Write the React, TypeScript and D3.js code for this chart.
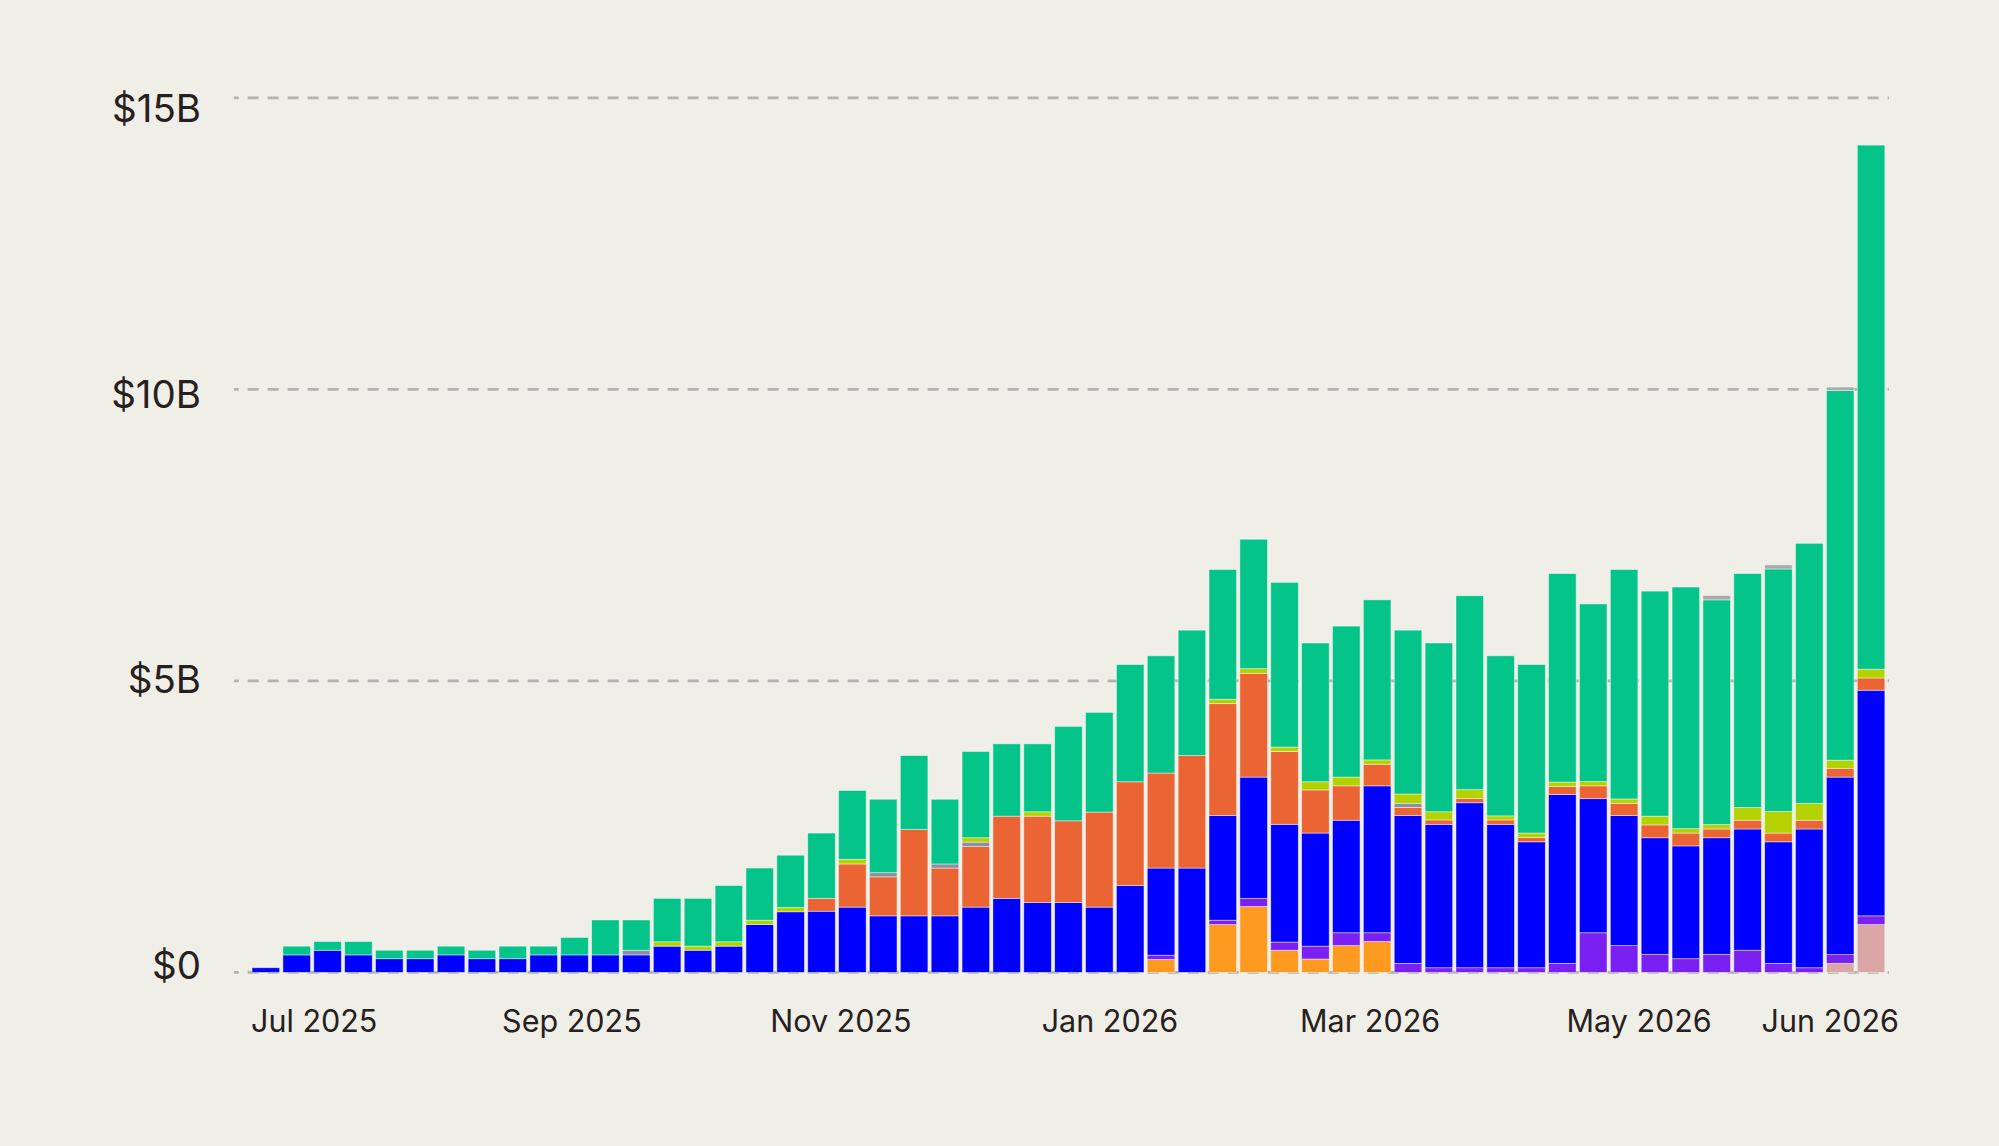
import { useRef, useMemo, useLayoutEffect } from "react";
import * as d3 from "d3";

// weekly buckets (week start, UTC)
const weeks = [
  "2025-06-21", "2025-06-28", "2025-07-05", "2025-07-12", "2025-07-19", "2025-07-26",
  "2025-08-02", "2025-08-09", "2025-08-16", "2025-08-23", "2025-08-30", "2025-09-06",
  "2025-09-13", "2025-09-20", "2025-09-27", "2025-10-04", "2025-10-11", "2025-10-18",
  "2025-10-25", "2025-11-01", "2025-11-08", "2025-11-15", "2025-11-22", "2025-11-29",
  "2025-12-06", "2025-12-13", "2025-12-20", "2025-12-27", "2026-01-03", "2026-01-10",
  "2026-01-17", "2026-01-24", "2026-01-31", "2026-02-07", "2026-02-14", "2026-02-21",
  "2026-02-28", "2026-03-07", "2026-03-14", "2026-03-21", "2026-03-28", "2026-04-04",
  "2026-04-11", "2026-04-18", "2026-04-25", "2026-05-02", "2026-05-09", "2026-05-16",
  "2026-05-23", "2026-05-30", "2026-06-06", "2026-06-13", "2026-06-20",
];

// values in $B, stacked bottom -> top
const pink = [
  0, 0, 0, 0, 0, 0, 0, 0, 0, 0, 0, 0, 0, 0, 0, 0, 0, 0, 0, 0, 0, 0, 0, 0, 0, 0, 0,
  0, 0, 0, 0, 0, 0, 0, 0, 0, 0, 0, 0, 0, 0, 0, 0, 0, 0, 0, 0, 0, 0, 0, 0, 0.155, 0.82,
];
const orange = [
  0, 0, 0, 0, 0, 0, 0, 0, 0, 0, 0, 0, 0, 0, 0, 0, 0, 0, 0, 0, 0, 0, 0, 0, 0, 0, 0,
  0, 0, 0.22, 0, 0.82, 1.13, 0.38, 0.23, 0.46, 0.53, 0, 0, 0, 0, 0, 0, 0, 0, 0, 0, 0,
  0, 0, 0, 0, 0,
];
const purple = [
  0, 0, 0, 0, 0, 0, 0, 0, 0, 0, 0, 0, 0, 0, 0, 0, 0, 0, 0, 0, 0, 0, 0, 0, 0, 0, 0,
  0, 0, 0.075, 0, 0.075, 0.14, 0.14, 0.22, 0.22, 0.15, 0.155, 0.08, 0.08, 0.08, 0.08,
  0.155, 0.68, 0.46, 0.31, 0.235, 0.31, 0.38, 0.155, 0.08, 0.15, 0.15,
];
const blue = [
  0.08, 0.3, 0.38, 0.3, 0.235, 0.235, 0.3, 0.235, 0.235, 0.3, 0.3, 0.3, 0.3, 0.45,
  0.38, 0.45, 0.82, 1.04, 1.05, 1.12, 0.97, 0.97, 0.97, 1.12, 1.27, 1.2, 1.2, 1.12,
  1.49, 1.495, 1.79, 1.795, 2.08, 2.02, 1.94, 1.93, 2.52, 2.535, 2.46, 2.83, 2.46,
  2.16, 2.895, 2.3, 2.23, 2.0, 1.935, 2.0, 2.08, 2.085, 2.38, 3.045, 3.87,
];
const red = [
  0, 0, 0, 0, 0, 0, 0, 0, 0, 0, 0, 0, 0, 0, 0, 0, 0, 0, 0.22, 0.74, 0.67, 1.48, 0.82,
  1.04, 1.41, 1.48, 1.4, 1.63, 1.78, 1.63, 1.93, 1.92, 1.78, 1.25, 0.74, 0.59, 0.37,
  0.14, 0.075, 0.075, 0.075, 0.075, 0.14, 0.22, 0.21, 0.22, 0.22, 0.15, 0.15, 0.15,
  0.15, 0.15, 0.21,
];
const slate = [
  0, 0, 0, 0, 0, 0, 0, 0, 0, 0, 0, 0, 0.08, 0, 0, 0, 0, 0, 0, 0, 0.07, 0, 0.07, 0.075,
  0, 0, 0, 0, 0, 0, 0, 0, 0, 0, 0, 0, 0, 0.07, 0, 0, 0, 0, 0, 0, 0, 0, 0, 0, 0, 0, 0,
  0, 0,
];
const lime = [
  0, 0, 0, 0, 0, 0, 0, 0, 0, 0, 0, 0, 0, 0.075, 0.07, 0.075, 0.075, 0.075, 0, 0.08, 0,
  0, 0, 0.075, 0, 0.075, 0, 0, 0, 0, 0, 0.075, 0.08, 0.075, 0.14, 0.15, 0.075, 0.16,
  0.14, 0.15, 0.07, 0.075, 0.075, 0.075, 0.075, 0.15, 0.075, 0.075, 0.22, 0.37, 0.29,
  0.14, 0.15,
];
const green = [
  0, 0.15, 0.15, 0.23, 0.145, 0.145, 0.15, 0.145, 0.215, 0.15, 0.3, 0.6, 0.52, 0.745,
  0.82, 0.965, 0.895, 0.895, 1.12, 1.18, 1.26, 1.27, 1.11, 1.48, 1.24, 1.165, 1.62,
  1.71, 2.01, 2.01, 2.15, 2.225, 2.22, 2.825, 2.38, 2.59, 2.745, 2.81, 2.895, 3.325,
  2.745, 2.89, 3.575, 3.045, 3.935, 3.86, 4.145, 3.855, 4.01, 4.16, 4.46, 6.34, 8.99,
];
const gray = [
  0, 0, 0, 0, 0, 0, 0, 0, 0, 0, 0, 0, 0, 0, 0, 0, 0, 0, 0, 0, 0, 0, 0, 0, 0, 0, 0,
  0, 0, 0, 0, 0, 0, 0, 0, 0, 0, 0, 0, 0, 0, 0, 0, 0, 0, 0, 0, 0.075, 0, 0.07, 0, 0.06, 0,
];

const seriesKeys = ["pink", "orange", "purple", "blue", "red", "slate", "lime", "green", "gray"];
const seriesValues: Record<string, number[]> = { pink, orange, purple, blue, red, slate, lime, green, gray };
const seriesColors: Record<string, string> = {
  pink: "#DBA7A6",
  orange: "#FF9A20",
  purple: "#7A20F2",
  blue: "#0000FF",
  red: "#EB6534",
  slate: "#8A90A1",
  lime: "#B3D200",
  green: "#04C489",
  gray: "#ABABAB",
};

const yTicks = [0, 5, 10, 15];
const xTickDates = ["2025-07-01", "2025-09-01", "2025-11-01", "2026-01-01", "2026-03-01", "2026-05-01"];

const W = 1999;
const H = 1146;
const BG = "#F0EFE7";

export default function App() {
  const xLabelsRef = useRef<SVGGElement>(null);
  const parse = d3.utcParse("%Y-%m-%d");

  const table = useMemo(
    () =>
      weeks.map((w, i) => {
        const row: Record<string, any> = { date: parse(w) as Date };
        seriesKeys.forEach((k) => (row[k] = seriesValues[k][i]));
        return row;
      }),
    []
  );

  const first = table[0].date as Date;
  const last = table[table.length - 1].date as Date;

  const x = d3.scaleUtc().domain([first, d3.utcDay.offset(last, 7)]).range([250.4, 1886.5]);
  const y = d3.scaleLinear().domain([0, 15]).range([972.4, 97.9]);
  // value labels sit a bit off the grid lines in the original
  const yLabel = d3.scaleLinear().domain([0, 15]).range([979, 122]);

  const stacked = useMemo(() => d3.stack<any>().keys(seriesKeys)(table), [table]);

  const gap = 3.3;
  const plotLeft = 251;
  const plotRight = 1899;

  const ticks = [
    ...xTickDates.map((d) => parse(d) as Date),
    d3.utcHour.offset(last, 84), // latest week
  ];
  const fmt = d3.utcFormat("%b %Y");

  // keep edge labels inside the plot
  useLayoutEffect(() => {
    if (!xLabelsRef.current) return;
    d3.select(xLabelsRef.current)
      .selectAll<SVGTextElement, unknown>("text")
      .each(function () {
        const el = this;
        const cx = +el.getAttribute("data-x")!;
        const w = el.getComputedTextLength();
        let px = cx;
        if (px - w / 2 < plotLeft) px = plotLeft + w / 2;
        if (px + w / 2 > plotRight) px = plotRight - w / 2;
        el.setAttribute("x", String(px));
      });
  }, []);

  return (
    <svg width={W} height={H} viewBox={`0 0 ${W} ${H}`} style={{ position: "absolute", left: 0, top: 0 }}>
      <rect x={0} y={0} width={W} height={H} fill={BG} />

      {/* grid */}
      <g>
        {yTicks.map((v) => (
          <line
            key={`g-${v}`}
            x1={234}
            x2={1889}
            y1={y(v)}
            y2={y(v)}
            stroke="#B3B2AC"
            strokeWidth={2.6}
            strokeDasharray="11 9"
            strokeDashoffset={6.3}
          />
        ))}
      </g>

      {/* bars */}
      <g>
        {stacked.map((layer) =>
          layer.map((s, i) => {
            const h = y(s[0]) - y(s[1]);
            if (h <= 0) return null;
            const d = table[i].date as Date;
            const x0 = x(d) + gap / 2;
            const bw = x(d3.utcDay.offset(d, 7)) - x(d) - gap;
            return (
              <rect
                key={`${layer.key}-${i}`}
                x={x0}
                y={y(s[1])}
                width={bw}
                height={h}
                fill={seriesColors[layer.key]}
                stroke="rgba(255,255,255,0.55)"
                strokeWidth={0.8}
              />
            );
          })
        )}
      </g>

      {/* y labels */}
      <g fontFamily="Inter, 'Noto Sans', sans-serif" fontSize={38.5} fill="#26211E" textAnchor="end">
        {yTicks.map((v) => (
          <text key={`yl-${v}`} x={201} y={yLabel(v)}>
            {v === 0 ? "$0" : `$${v}B`}
          </text>
        ))}
      </g>

      {/* x labels */}
      <g ref={xLabelsRef} fontFamily="Inter, 'Noto Sans', sans-serif" fontSize={30.5} fill="#26211E" textAnchor="middle">
        {ticks.map((t, i) => (
          <text key={`xl-${i}`} x={x(t) + (i > 0 ? 4 : 0)} data-x={x(t) + (i > 0 ? 4 : 0)} y={1032}>
            {fmt(t)}
          </text>
        ))}
      </g>
    </svg>
  );
}
